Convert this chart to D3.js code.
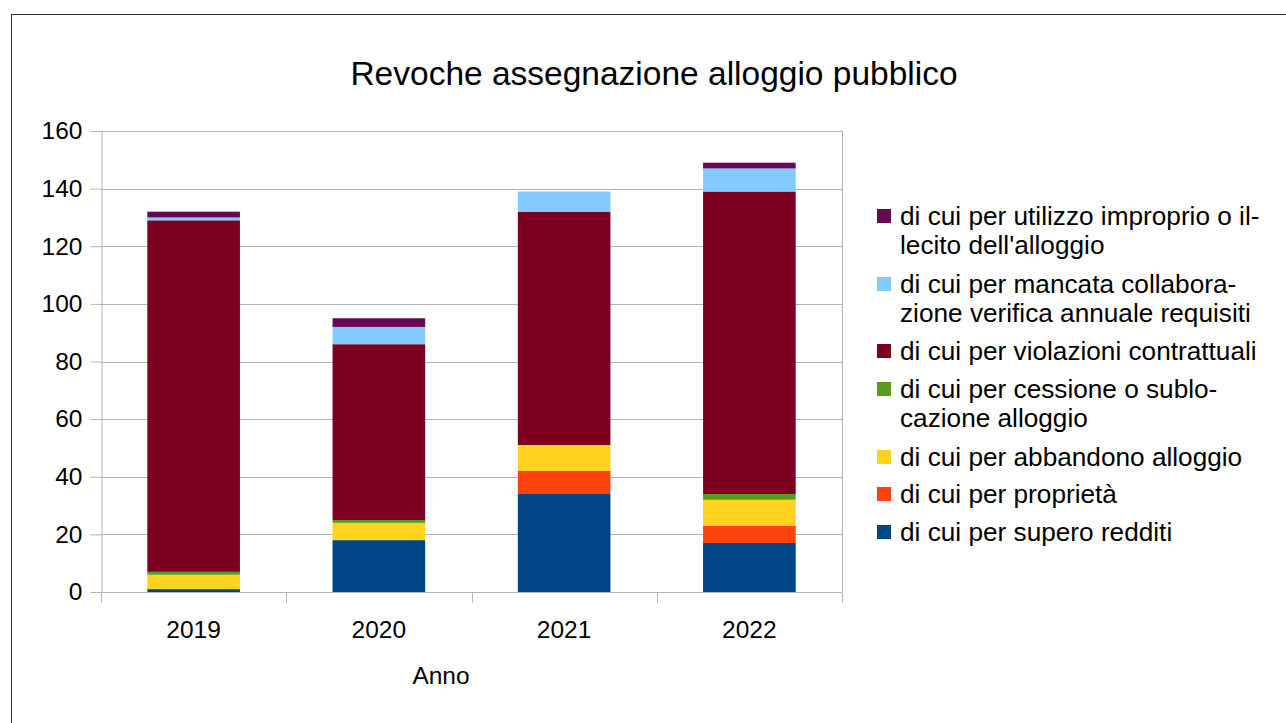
<!DOCTYPE html>
<html>
<head>
<meta charset="utf-8">
<script src="https://cdn.jsdelivr.net/npm/d3@7"></script>
<style>
  body { margin: 0; background: #fff; }
  text { font-family: "Liberation Sans", Arial, sans-serif; }
</style>
</head>
<body>
<div id="chart"></div>
<script>
const years = ['2019', '2020', '2021', '2022'];
const seriesNames = [
  'di cui per supero redditi',
  'di cui per proprietà',
  'di cui per abbandono alloggio',
  'di cui per cessione o sublocazione alloggio',
  'di cui per violazioni contrattuali',
  'di cui per mancata collaborazione verifica annuale requisiti',
  'di cui per utilizzo improprio o illecito dell\'alloggio'
];
const legendLines = [
  ['di cui per supero redditi'],
  ['di cui per proprietà'],
  ['di cui per abbandono alloggio'],
  ['di cui per cessione o sublo-', 'cazione alloggio'],
  ['di cui per violazioni contrattuali'],
  ['di cui per mancata collabora-', 'zione verifica annuale requisiti'],
  ['di cui per utilizzo improprio o il-', 'lecito dell\'alloggio']
];
const superoRedditi = [1, 18, 34, 17];
const proprieta = [0, 0, 8, 6];
const abbandono = [5, 6, 9, 9];
const cessione = [1, 1, 0, 2];
const violazioni = [122, 61, 81, 105];
const mancataCollab = [1, 6, 7, 8];
const utilizzoImproprio = [2, 3, 0, 2];
const colors = ['#004586', '#ff420e', '#ffd320', '#579d1c', '#7e0021', '#83caff', '#650953'];
const yTicks = [0, 20, 40, 60, 80, 100, 120, 140, 160];

const W = 1286, H = 723;
const plot = { left: 101, top: 131, right: 842, bottom: 592 };

const allSeries = [superoRedditi, proprieta, abbandono, cessione, violazioni, mancataCollab, utilizzoImproprio];
const table = years.map((y, i) => {
  const row = { year: y };
  seriesNames.forEach((s, k) => { row[s] = allSeries[k][i]; });
  return row;
});
const stacked = d3.stack().keys(seriesNames)(table);

const svg = d3.select('#chart').append('svg')
  .attr('width', W).attr('height', H);

svg.append('rect')
  .attr('x', 11.5).attr('y', 14.5)
  .attr('width', W).attr('height', H)
  .attr('fill', '#fff').attr('stroke', '#333').attr('stroke-width', 1);

svg.append('text')
  .attr('x', 654).attr('y', 85)
  .attr('text-anchor', 'middle')
  .style('font-size', '33.5px').attr('fill', '#000')
  .text('Revoche assegnazione alloggio pubblico');

const x = d3.scaleBand().domain(years).range([plot.left, plot.right]).paddingInner(0.5).paddingOuter(0.25);
const y = d3.scaleLinear().domain([0, 160]).range([plot.bottom, plot.top]);

// gridlines
svg.append('g')
  .selectAll('line').data(yTicks).enter().append('line')
  .attr('x1', plot.left).attr('x2', plot.right)
  .attr('y1', d => Math.round(y(d)) + 0.5).attr('y2', d => Math.round(y(d)) + 0.5)
  .attr('stroke', '#b3b3b3').attr('stroke-width', 1);

svg.append('line')
  .attr('x1', plot.right + 0.5).attr('x2', plot.right + 0.5)
  .attr('y1', plot.top).attr('y2', plot.bottom)
  .attr('stroke', '#b3b3b3');

// y axis
svg.append('g')
  .attr('transform', `translate(${plot.left + 0.5},0)`)
  .call(d3.axisLeft(y).tickValues(yTicks).tickSize(11).tickPadding(8).tickSizeOuter(0))
  .call(g => g.select('.domain').attr('stroke', '#b3b3b3'))
  .call(g => g.selectAll('.tick line').attr('stroke', '#b3b3b3'))
  .call(g => g.selectAll('.tick text').attr('fill', '#000').style('font-size', '24.5px')
    .attr('font-family', '"Liberation Sans", Arial, sans-serif'));

// x axis
const xAxis = svg.append('g')
  .attr('transform', `translate(0,${plot.bottom + 0.5})`);
xAxis.append('line')
  .attr('x1', plot.left).attr('x2', plot.right)
  .attr('stroke', '#b3b3b3');
const step = x.step();
xAxis.selectAll('.bound').data(d3.range(years.length + 1)).enter().append('line')
  .attr('x1', i => Math.round(plot.left + i * step) + 0.5)
  .attr('x2', i => Math.round(plot.left + i * step) + 0.5)
  .attr('y1', 0).attr('y2', 10)
  .attr('stroke', '#b3b3b3');
xAxis.selectAll('.lbl').data(years).enter().append('text')
  .attr('x', d => x(d) + x.bandwidth() / 2)
  .attr('y', 45)
  .attr('text-anchor', 'middle')
  .style('font-size', '24.5px').attr('fill', '#000')
  .text(d => d);

svg.append('text')
  .attr('x', 441).attr('y', 684)
  .attr('text-anchor', 'middle')
  .style('font-size', '24.5px').attr('fill', '#000')
  .text('Anno');

// bars
svg.append('g').selectAll('g').data(stacked).enter().append('g')
  .attr('fill', (d, i) => colors[i])
  .selectAll('rect').data(d => d).enter().append('rect')
  .attr('x', d => x(d.data.year))
  .attr('width', x.bandwidth())
  .attr('y', d => y(d[1]))
  .attr('height', d => y(d[0]) - y(d[1]));

// legend
const legendY = [532, 494, 457, 389, 351, 284, 216];
const legend = svg.append('g');
seriesNames.forEach((s, i) => {
  const g = legend.append('g').attr('transform', `translate(0,${legendY[i]})`);
  g.append('rect').attr('x', 877).attr('y', -7).attr('width', 14).attr('height', 14).attr('fill', colors[i]);
  legendLines[i].forEach((t, j) => {
    g.append('text')
      .attr('x', 900).attr('y', j * 29 + 9)
      .style('font-size', '26.2px').attr('fill', '#000')
      .text(t);
  });
});
</script>
</body>
</html>
